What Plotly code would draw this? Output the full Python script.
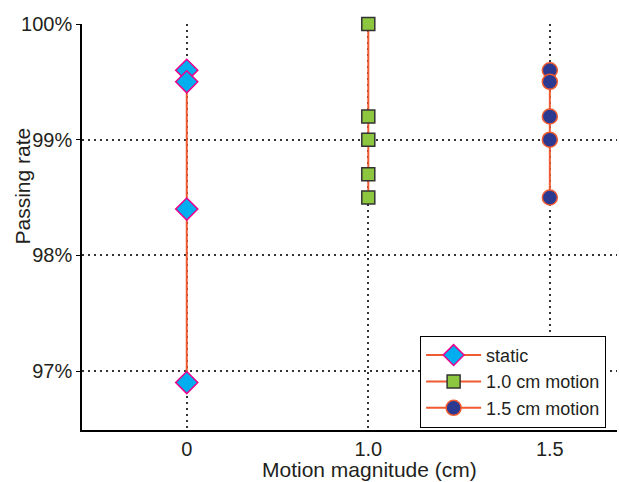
import plotly.graph_objects as go

categories = ["0", "1.0", "1.5"]
static_vals = [99.6, 99.5, 98.4, 96.9]
motion10_vals = [100.0, 99.2, 99.0, 98.7, 98.5]
motion15_vals = [99.6, 99.5, 99.2, 99.0, 98.5]
series_names = ["static", "1.0 cm motion", "1.5 cm motion"]
y_ticks = [97, 98, 99, 100]
y_labels = ["97%", "98%", "99%", "100%"]

line_color = "#EF5A30"
txt = "#231F20"

fig = go.Figure()
fig.add_trace(go.Scatter(
    x=[0] * len(static_vals), y=static_vals, mode="lines+markers", name=series_names[0],
    line=dict(color=line_color, width=2), cliponaxis=False,
    marker=dict(symbol="diamond", size=17, color="#00AEEF", line=dict(color="#EC008C", width=1.5))))
fig.add_trace(go.Scatter(
    x=[1] * len(motion10_vals), y=motion10_vals, mode="lines+markers", name=series_names[1],
    line=dict(color=line_color, width=2), cliponaxis=False,
    marker=dict(symbol="square", size=13, color="#8DC63F", line=dict(color="#333333", width=1.5))))
fig.add_trace(go.Scatter(
    x=[2] * len(motion15_vals), y=motion15_vals, mode="lines+markers", name=series_names[2],
    line=dict(color=line_color, width=2), cliponaxis=False,
    marker=dict(symbol="circle", size=15, color="#2B3990", line=dict(color=line_color, width=1.5))))

fig.update_layout(
    width=619, height=482,
    margin=dict(l=82, r=2, t=24, b=52),
    paper_bgcolor="white", plot_bgcolor="white",
    font=dict(family="Liberation Sans, Arial, sans-serif", color=txt, size=20),
    showlegend=True,
    legend=dict(x=0.632, y=0.232, xanchor="left", yanchor="top",
                bordercolor="#000000", borderwidth=1, bgcolor="white",
                font=dict(size=18, color=txt), tracegroupgap=0, itemwidth=55),
    xaxis=dict(range=[-0.577, 2.37], tickvals=[0, 1, 2], ticktext=categories,
               showgrid=True, gridcolor="#333333", griddash="2px,4px", gridwidth=1.5,
               showline=True, linecolor="#000000", linewidth=1.5, ticks="", zeroline=False,
               tickfont=dict(size=20, color=txt)),
    yaxis=dict(range=[96.49, 100.0], tickvals=y_ticks, ticktext=y_labels,
               showgrid=True, gridcolor="#333333", griddash="2px,4px", gridwidth=1.5,
               showline=True, linecolor="#000000", linewidth=1.5, ticks="outside", ticklen=4,
               tickcolor="#000000", zeroline=False, tickfont=dict(size=20, color=txt)),
)
fig.add_annotation(text="Passing rate", xref="paper", yref="paper", x=-0.112, y=0.6,
                   showarrow=False, textangle=-90, font=dict(size=21, color=txt),
                   xanchor="center", yanchor="middle")
fig.add_annotation(text="Motion magnitude (cm)", xref="paper", yref="paper", x=0.538, y=-0.097,
                   showarrow=False, font=dict(size=21, color=txt),
                   xanchor="center", yanchor="middle")
fig.write_html("out.html")
